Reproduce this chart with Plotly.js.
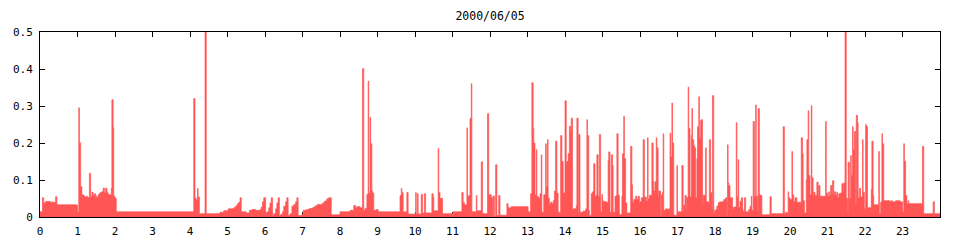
<!DOCTYPE html>
<html>
<head>
<meta charset="utf-8">
<script src="https://cdn.plot.ly/plotly-3.0.1.min.js"></script>
<style>html,body{margin:0;padding:0;background:#fff;}#chart{width:960px;height:240px;}</style>
</head>
<body>
<div id="chart"></div>
<script>
// Date of the chart
const chartTitle = "2000/06/05";
// Start of each step, minutes after midnight
const minutes = [
  0,4,6,9,17,25,27,59,60,62,
  63,65,67,69,71,74,76,79,81,83,
  85,87,89,91,93,95,97,99,101,103,
  105,107,108,110,114,115,117,118,120,122,
  246,248,250,252,253,255,264,266,288,294,
  301,308,311,314,316,318,320,322,330,335,
  339,345,352,354,356,358,361,363,366,368,
  370,372,374,377,379,381,383,385,388,390,
  393,395,397,400,403,406,409,411,413,419,
  421,426,431,437,441,444,452,455,459,462,
  466,480,496,502,505,507,512,516,518,520,
  523,525,526,528,529,531,532,534,538,541,
  576,578,579,581,587,589,601,602,604,605,
  610,612,615,617,627,629,630,637,638,640,
  642,644,661,675,677,679,683,684,686,688,
  690,691,698,699,706,708,716,718,722,724,
  725,727,729,731,734,736,747,749,754,781,
  785,787,789,790,792,794,795,798,800,802,
  803,806,809,810,812,813,815,817,819,821,
  823,825,827,829,833,835,837,840,842,843,
  845,847,849,850,852,853,858,859,861,862,
  864,869,873,875,876,878,879,882,884,886,
  888,890,891,893,895,897,899,900,902,907,
  909,910,912,914,916,917,920,922,923,925,
  927,931,932,934,935,937,939,945,947,948,
  950,953,955,957,959,960,962,965,967,970,
  972,973,975,979,981,982,984,986,987,989,
  990,993,994,996,997,998,1001,1004,1006,1008,
  1009,1011,1012,1014,1019,1020,1027,1029,1030,1032,
  1034,1035,1037,1038,1040,1042,1043,1044,1046,1047,
  1049,1051,1052,1054,1055,1057,1058,1060,1061,1065,
  1066,1070,1071,1073,1075,1076,1078,1079,1081,1083,
  1085,1086,1089,1094,1097,1099,1100,1101,1102,1104,
  1108,1110,1114,1115,1117,1118,1120,1122,1124,1125,
  1127,1129,1134,1136,1138,1139,1141,1143,1145,1146,
  1148,1149,1151,1153,1155,1168,1170,1189,1191,1193,
  1195,1197,1198,1200,1203,1204,1206,1208,1211,1217,
  1218,1220,1221,1223,1226,1227,1229,1230,1232,1234,
  1235,1237,1238,1240,1243,1245,1246,1248,1257,1258,
  1260,1262,1263,1265,1267,1268,1270,1271,1273,1275,
  1276,1278,1281,1283,1285,1286,1288,1290,1292,1293,
  1295,1297,1298,1300,1301,1303,1305,1306,1308,1309,
  1311,1313,1316,1317,1319,1321,1322,1324,1330,1331,
  1333,1334,1342,1343,1345,1347,1348,1350,1360,1362,
  1364,1369,1376,1380,1382,1383,1385,1387,1389,1390,
  1412,1414,1429,1431,1440
];
// Value of each step
const load = [
  .014,.052,.038,.042,.040,.055,.033,.031,.014,.295,
  .201,.082,.060,.058,.054,.056,.053,.118,.054,.067,
  .058,.063,.056,.053,.060,.064,.067,.068,.078,.065,
  .078,.068,.063,.060,.077,.317,.241,.056,.050,.014,
  .320,.051,.045,.077,.054,.009,.500,.009,.013,.017,
  .022,.023,.027,.031,.036,.040,.052,.014,.011,.018,
  .020,.018,.020,.027,.041,.052,.011,.014,.025,.038,
  .052,.005,.009,.022,.038,.052,.004,.007,.014,.029,
  .041,.052,.004,.009,.029,.034,.041,.052,.004,.006,
  .018,.020,.023,.027,.031,.034,.038,.043,.049,.052,
  .006,.014,.018,.031,.025,.028,.025,.401,.018,.023,
  .061,.367,.064,.269,.198,.070,.065,.018,.020,.014,
  .058,.077,.066,.014,.066,.008,.066,.008,.063,.008,
  .061,.011,.063,.011,.063,.054,.017,.185,.066,.050,
  .051,.009,.014,.066,.039,.033,.241,.056,.058,.266,
  .360,.014,.058,.017,.149,.009,.279,.060,.053,.000,
  .057,.002,.141,.004,.058,.005,.036,.025,.028,.014,
  .063,.363,.239,.200,.060,.182,.055,.051,.063,.168,
  .013,.060,.198,.081,.209,.051,.034,.040,.036,.044,
  .070,.205,.065,.013,.220,.150,.065,.314,.142,.150,
  .171,.245,.233,.267,.019,.022,.031,.267,.013,.223,
  .013,.016,.022,.263,.220,.018,.004,.063,.068,.144,
  .056,.059,.168,.056,.223,.014,.061,.044,.041,.038,
  .153,.176,.013,.168,.140,.013,.056,.058,.225,.059,
  .007,.056,.171,.272,.158,.038,.011,.191,.087,.040,
  .047,.056,.047,.056,.038,.041,.052,.209,.054,.043,
  .214,.049,.059,.200,.097,.070,.095,.214,.187,.054,
  .070,.004,.060,.067,.225,.018,.022,.020,.022,.227,
  .162,.308,.200,.005,.139,.014,.139,.014,.032,.058,
  .020,.052,.351,.239,.054,.220,.293,.209,.193,.187,
  .052,.158,.244,.325,.212,.261,.263,.034,.059,.187,
  .041,.034,.209,.066,.023,.328,.009,.017,.020,.029,
  .036,.040,.041,.047,.052,.005,.195,.092,.085,.052,
  .022,.027,.255,.056,.155,.025,.042,.052,.020,.014,
  .052,.014,.020,.029,.056,.018,.258,.056,.303,.056,
  .014,.293,.060,.058,.006,.055,.009,.244,.009,.013,
  .011,.068,.052,.047,.177,.060,.041,.052,.040,.036,
  .214,.171,.044,.011,.101,.209,.287,.112,.060,.301,
  .106,.052,.067,.058,.094,.056,.085,.056,.258,.065,
  .056,.068,.058,.085,.063,.098,.058,.068,.061,.067,
  .052,.063,.065,.090,.067,.092,.500,.051,.011,.148,
  .050,.166,.112,.244,.182,.231,.036,.275,.255,.052,
  .077,.054,.209,.067,.022,.250,.245,.025,.074,.205,
  .058,.033,.177,.009,.040,.225,.198,.044,.041,.044,
  .041,.044,.041,.014,.198,.151,.058,.036,.044,.036,
  .191,.009,.041,.009,.009
];
// Axis tick values and labels
const hourTicks = [0,1,2,3,4,5,6,7,8,9,10,11,12,13,14,15,16,17,18,19,20,21,22,23];
const hourLabels = hourTicks.map(String);
const loadTicks = [0,0.1,0.2,0.3,0.4,0.5];
const loadLabels = ["0","0.1","0.2","0.3","0.4","0.5"];

const fillColor = "#ff5555";
const mono = "DejaVu Sans Mono, monospace";

const trace = {
  x: minutes.map(m => m / 60),
  y: load,
  type: "scatter",
  mode: "lines",
  line: {shape: "hv", color: fillColor, width: 0.7},
  fill: "tozeroy",
  fillcolor: fillColor,
  hoverinfo: "skip",
  showlegend: false
};

const axisCommon = {
  showline: true, linecolor: "#000", linewidth: 1, mirror: "ticks",
  ticks: "inside", ticklen: 5, tickwidth: 1, tickcolor: "#000",
  showgrid: false, zeroline: false, layer: "below traces",
  tickfont: {family: mono, size: 11, color: "#000"}
};

const layout = {
  width: 960, height: 240,
  margin: {l: 40, r: 20, t: 32, b: 23, pad: 0},
  paper_bgcolor: "#fff", plot_bgcolor: "#fff",
  title: {text: chartTitle, font: {family: mono, size: 11.5, color: "#000"},
          x: 0.5, xref: "paper", xanchor: "center", y: 1 - 15.5/240, yref: "container", yanchor: "middle"},
  xaxis: Object.assign({}, axisCommon, {range: [0, 24], tickmode: "array", tickvals: hourTicks, ticktext: hourLabels, ticklabelstandoff: 4}),
  yaxis: Object.assign({}, axisCommon, {range: [0, 0.5], tickmode: "array", tickvals: loadTicks, ticktext: loadLabels, ticklabelstandoff: 4})
};

Plotly.newPlot("chart", [trace], layout, {displayModeBar: false, staticPlot: true});
</script>
</body>
</html>
